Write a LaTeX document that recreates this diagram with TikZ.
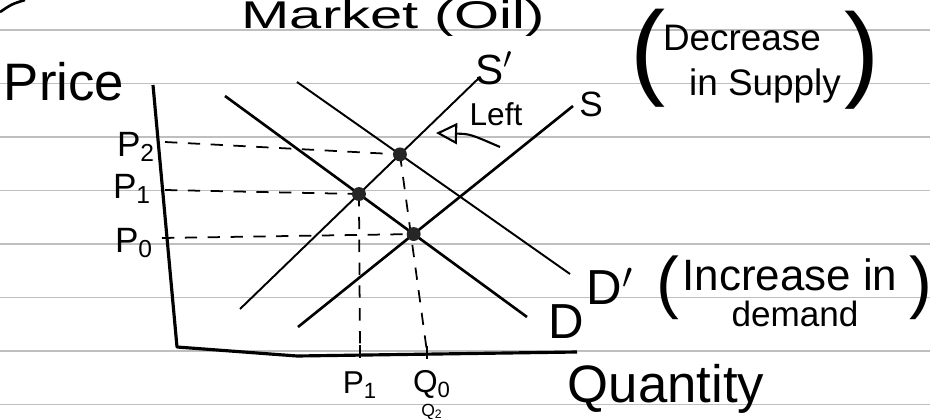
\documentclass[tikz,border=0pt]{standalone}
\usepackage{fontspec}
\setmainfont{Liberation Sans}
\usetikzlibrary{arrows.meta,positioning,intersections}

\tikzset{
  paper/.style={gray!50, line width=0.7pt},
  axis/.style={line width=1.8pt, line join=round},
  curve/.style={line width=1.5pt},
  shifted/.style={line width=1.1pt},
  guide/.style={line width=1pt, dash pattern=on 7pt off 6pt},
  eqdot/.style={circle, fill=black!85, inner sep=2.8pt},
  hand/.style={inner sep=0pt, font=\fontsize{#1}{#1}\selectfont},
}

\begin{document}
\begin{tikzpicture}[x=0.02cm, y=-0.02cm]
\useasboundingbox (0,0) rectangle (930,419);
\clip (0,0) rectangle (930,419);
% lined paper
\foreach \y in {30,83.5,...,410}
  \draw[paper] (0,\y) -- (930,\y);
\draw[curve] (0,12) .. controls (12,4) .. (25,0);

% axes
\coordinate (ytop) at (153,85);
\coordinate (origin) at (177,347);
\coordinate (xdip) at (297,356);
\coordinate (xend) at (577,352);
\draw[axis] (ytop) -- (origin) -- (xdip) -- (xend);

% demand and supply curves
\coordinate (d0) at (225,96);   \coordinate (d1) at (527,317);
\coordinate (dn0) at (297,82);  \coordinate (dn1) at (570,274);
\coordinate (s0) at (298,327);  \coordinate (s1) at (573,106);
\coordinate (sn0) at (240,309); \coordinate (sn1) at (480,77);
\draw[curve, name path=dem] (d0) -- (d1);
\draw[shifted, name path=demnew] (dn0) -- (dn1);
\draw[curve, name path=sup] (s0) -- (s1);
\draw[shifted, name path=supnew] (sn0) -- (sn1);
\path[name intersections={of=sup and dem, by=eqzero}];
\path[name intersections={of=supnew and dem, by=eqone}];
\path[name intersections={of=supnew and demnew, by=eqtwo}];

% guide lines to the axes
\coordinate (ptwo) at (165,142);
\coordinate (pone) at (165,190);
\coordinate (pzero) at (162,238);
\coordinate (qone) at (360,351);
\coordinate (qzero) at (427,352);
\draw[guide] (ptwo) -- (eqtwo);
\draw[guide] (pone) -- (eqone);
\draw[guide] (pzero) -- (eqzero);
\draw[guide] (eqone) -- (qone);
\draw[guide] (eqtwo) -- (qzero);
\draw[line width=1.5pt] (qone) ++(0,-6) -- ++(0,13);
\draw[line width=1.5pt] (qzero) ++(0,-6) -- ++(0,13);

\node[eqdot] (dotzero) at (eqzero) {};
\node[eqdot] (dotone) at (eqone) {};
\node[eqdot] (dottwo) at (eqtwo) {};

% labels
\node[hand=22, anchor=base] (title) at (393,29) {\scalebox{1.5}[1]{Market (Oil)}};
\node[hand=30, anchor=base] (price) at (64,100) {Price};
\node[hand=20] (ltwo) at (136,147) {P\textsubscript{2}};
\node[hand=20] (lone) at (132,189) {P\textsubscript{1}};
\node[hand=20] (lzero) at (134,243) {P\textsubscript{0}};
\node[hand=18] (qlone) at (360,385) {P\textsubscript{1}};
\node[hand=18] (qlzero) at (432,384) {Q\textsubscript{0}};
\node[hand=10, anchor=base] (qltwo) at (432,416) {Q\textsubscript{2}};
\node[hand=30, anchor=base] (quantity) at (666,402) {Quantity};

\node[hand=24] (snlabel) at (494,68) {S$'$};
\node[hand=20] (slabel) at (591,104) {S};
\node[hand=28] (dnlabel) at (610,286) {D$'$};
\node[hand=28] (dlabel) at (566,322) {D};

% shift arrow
\node[hand=18] (left) at (496,114) {Left};
\coordinate (leftfrom) at (500,147);
\coordinate (lefttip) at (436,133);
\draw[line width=1.2pt, -{Triangle[open, length=12pt, width=12pt]}]
  (leftfrom) .. controls (470,134) .. (lefttip);

% notes
\node[hand=60] (lparen) at (648,58) {(};
\node[hand=60] (rparen) at (862,60) {)};
\node[hand=21] (decrease) at (742,38) {Decrease};
\node[hand=21] (insupply) at (765,86) {in Supply};
\node[hand=39] (lparentwo) at (668,288) {(};
\node[hand=39] (rparentwo) at (921,288) {)};
\node[hand=25] (increase) at (790,275) {Increase in};
\node[hand=20] (demand) at (795,314) {demand};
\end{tikzpicture}
\end{document}
